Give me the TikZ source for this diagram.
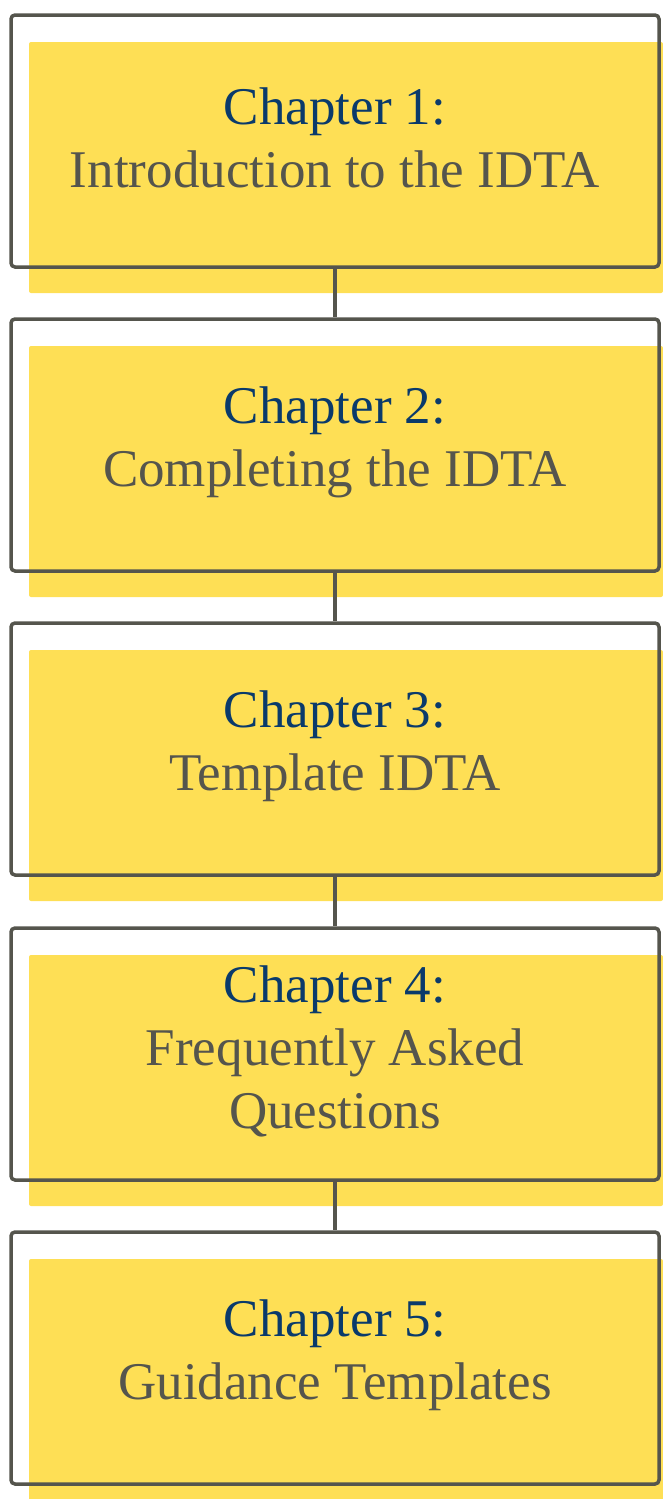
\documentclass[tikz,border=0pt]{standalone}
\usepackage{fontspec}
\setmainfont{Liberation Serif}
\definecolor{chapyellow}{HTML}{FEDF55}
\definecolor{chapgray}{HTML}{55554D}
\definecolor{chapblue}{HTML}{0A3A6B}
\begin{document}
\begin{tikzpicture}[x=1pt,y=-1pt,
    paper/.style={fill=chapyellow, rounded corners=2pt, inner sep=0pt,
      minimum width=634pt, minimum height=251pt},
    outline/.style={draw=chapgray, line width=3.5pt, rounded corners=4pt, inner sep=0pt,
      minimum width=648pt, minimum height=252pt},
    chaptext/.style={align=center, text=chapgray, yshift=3pt,
      font=\fontsize{53}{63}\selectfont}]
      \useasboundingbox (0,0) rectangle (663,1499);
      % yellow backs
      \draw
        (346,167.5) node[paper] (fill1){}
        (346,471.5) node[paper] (fill2){}
        (346,775.5) node[paper] (fill3){}
        (346,1080.5) node[paper] (fill4){}
        (346,1384.5) node[paper] (fill5){};
      % frames
      \draw
        (335,141) node[outline] (ch1){}
        (335,445) node[outline] (ch2){}
        (335,749) node[outline] (ch3){}
        (335,1054) node[outline] (ch4){}
        (335,1358) node[outline] (ch5){};
      % titles
      \node[chaptext] (t1) at (ch1) {{\color{chapblue}Chapter 1:}\\Introduction to the IDTA};
      \node[chaptext] (t2) at (ch2) {{\color{chapblue}Chapter 2:}\\Completing the IDTA};
      \node[chaptext] (t3) at (ch3) {{\color{chapblue}Chapter 3:}\\Template IDTA};
      \node[chaptext] (t4) at (ch4) {{\color{chapblue}Chapter 4:}\\Frequently Asked\\Questions};
      \node[chaptext] (t5) at (ch5) {{\color{chapblue}Chapter 5:}\\Guidance Templates};
      \begin{scope}[draw=chapgray, line width=3.5pt]
        \draw (ch1) to (ch2);
        \draw (ch2) to (ch3);
        \draw (ch3) to (ch4);
        \draw (ch4) to (ch5);
      \end{scope}
    \end{tikzpicture}
\end{document}
